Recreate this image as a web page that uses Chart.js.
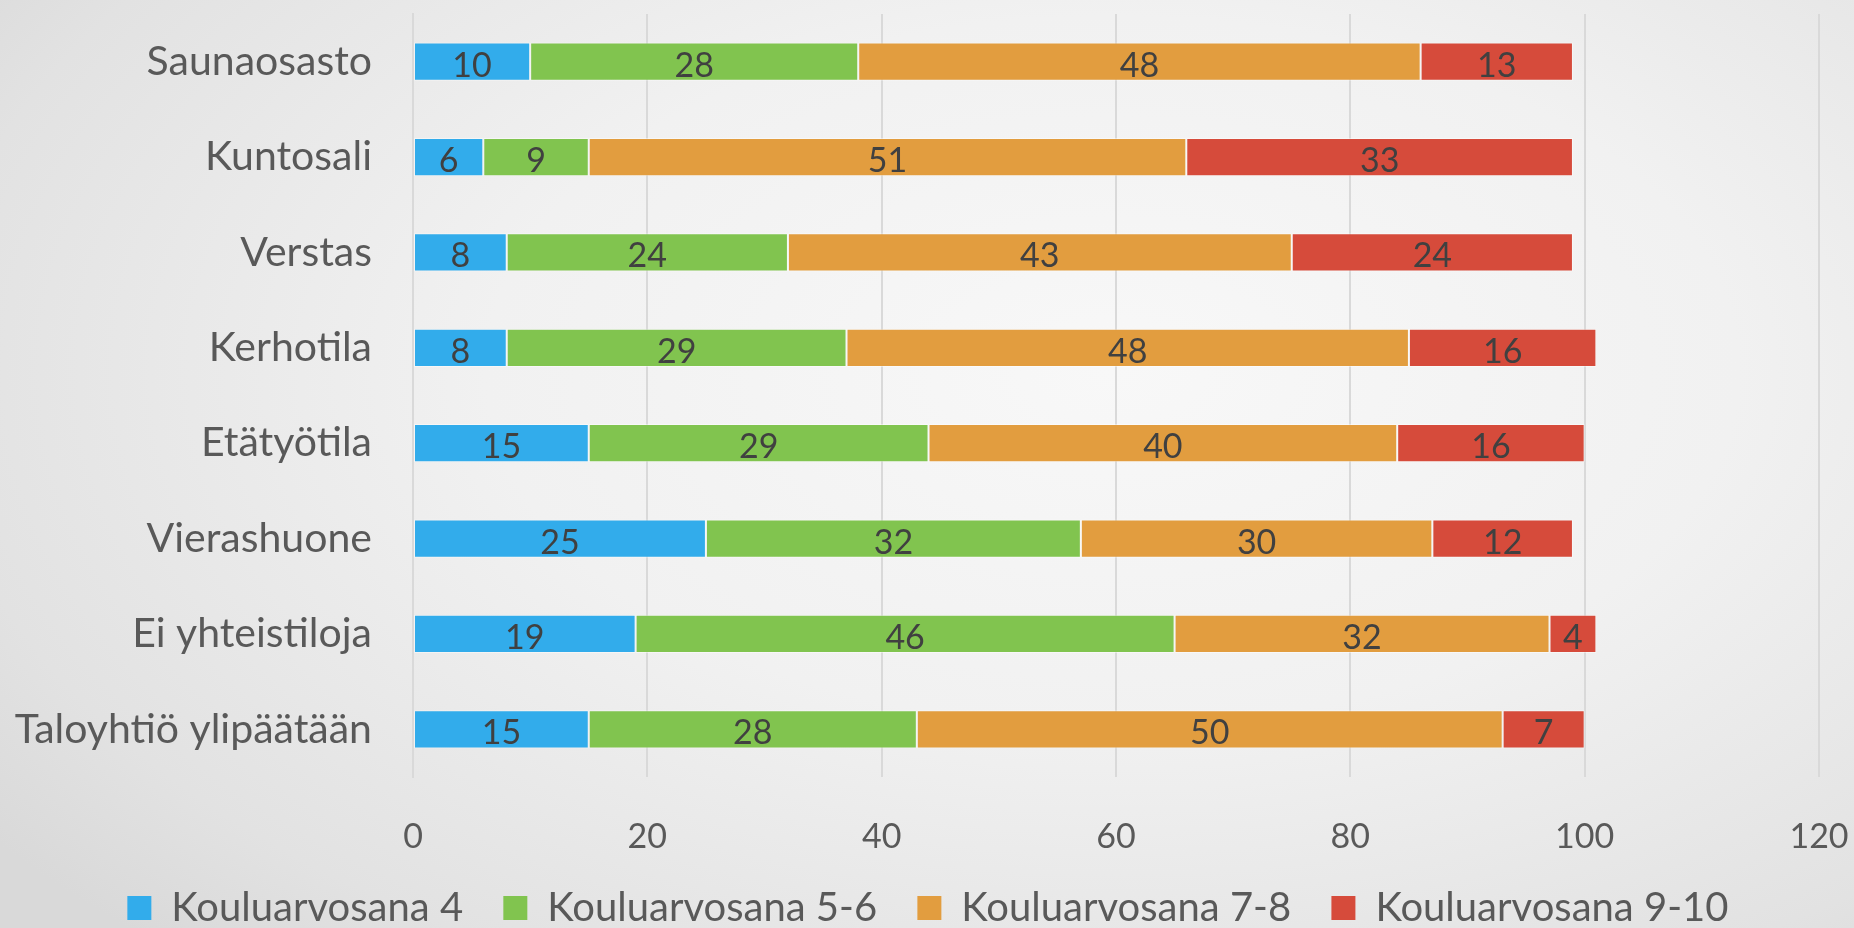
<!DOCTYPE html>
<html>
<head>
<meta charset="utf-8">
<script src="https://cdn.jsdelivr.net/npm/chart.js@4.4.1/dist/chart.umd.min.js"></script>
<style>
  html, body { margin: 0; padding: 0; }
  body {
    width: 1854px; height: 928px; overflow: hidden;
    background: radial-gradient(ellipse 75% 85% at 60% 40%, #f8f8f8 0%, #f1f1f1 45%, #e2e2e2 85%, #d9d9d9 100%);
  }
  /* a touch taller than the window so the legend row can sit low like the original */
  #wrap { position: relative; width: 1854px; height: 938px; }
</style>
</head>
<body>
<div id="wrap"><canvas id="chart"></canvas></div>
<script>
  // ── Data ────────────────────────────────────────────────────────────────
  const categories = [
    'Saunaosasto', 'Kuntosali', 'Verstas', 'Kerhotila',
    'Etätyötila', 'Vierashuone', 'Ei yhteistiloja', 'Taloyhtiö ylipäätään'
  ];
  const grade4   = [10, 6, 8, 8, 15, 25, 19, 15];
  const grade56  = [28, 9, 24, 29, 29, 32, 46, 28];
  const grade78  = [48, 51, 43, 48, 40, 30, 32, 50];
  const grade910 = [13, 33, 24, 16, 16, 12, 4, 7];
  const seriesNames = ['Kouluarvosana 4', 'Kouluarvosana 5-6', 'Kouluarvosana 7-8', 'Kouluarvosana 9-10'];
  const xTicks = [0, 20, 40, 60, 80, 100, 120];

  // ── Colour tokens ───────────────────────────────────────────────────────
  const BLUE   = '#32ACEB';
  const GREEN  = '#81C44F';
  const ORANGE = '#E29D3F';
  const RED    = '#D64B3B';
  const TEXT   = '#595959';
  const LABEL  = '#404040';
  const FONT   = 'Lato, "Open Sans", sans-serif';

  function mkSet(label, data, color) {
    return {
      label, data,
      backgroundColor: color,
      borderColor: 'rgba(255,255,255,0.45)',
      borderWidth: 1,
      borderSkipped: false,
      barPercentage: 0.4,
      categoryPercentage: 1,
    };
  }

  // Value labels centred in each segment
  const segLabels = {
    id: 'segLabels',
    afterDatasetsDraw(chart) {
      const ctx = chart.ctx;
      ctx.save();
      ctx.font = '34px ' + FONT;
      ctx.fillStyle = LABEL;
      ctx.textAlign = 'center';
      ctx.textBaseline = 'middle';
      chart.data.datasets.forEach((ds, i) => {
        chart.getDatasetMeta(i).data.forEach((bar, j) => {
          const { x, y, base } = bar.getProps(['x', 'y', 'base'], true);
          ctx.fillText(String(ds.data[j]), (x + base) / 2, y + 4);
        });
      });
      ctx.restore();
    }
  };

  new Chart(document.getElementById('chart'), {
    type: 'bar',
    data: {
      labels: categories,
      datasets: [
        mkSet(seriesNames[0], grade4, BLUE),
        mkSet(seriesNames[1], grade56, GREEN),
        mkSet(seriesNames[2], grade78, ORANGE),
        mkSet(seriesNames[3], grade910, RED),
      ],
    },
    options: {
      indexAxis: 'y',
      responsive: true,
      maintainAspectRatio: false,
      animation: false,
      layout: { padding: { top: 14, left: 12, right: 0, bottom: 0 } },
      plugins: {
        tooltip: { enabled: false },
        legend: {
          position: 'bottom',
          labels: {
            font: { family: FONT, size: 40 },
            color: TEXT,
            boxWidth: 24,
            boxHeight: 24,
            padding: 30,
            // trailing space widens each entry a little, like the original spacing
            generateLabels: chart => chart.data.datasets.map((ds, i) => ({
              text: ds.label + ' ',
              fillStyle: ds.backgroundColor,
              strokeStyle: ds.backgroundColor,
              lineWidth: 0,
              datasetIndex: i,
              fontColor: TEXT,
            })),
          },
        },
      },
      scales: {
        x: {
          stacked: true,
          min: 0,
          max: 120,
          afterBuildTicks: s => { s.ticks = xTicks.map(v => ({ value: v })); },
          afterFit: s => {
            s.height = 81;
            s.paddingLeft = 0;
            s.paddingRight = 35;
          },
          grid: { color: '#d9d9d9', lineWidth: 2, drawTicks: false },
          border: { display: false },
          ticks: {
            font: { family: FONT, size: 34 },
            color: TEXT,
            padding: 40,
            maxRotation: 0,
          },
        },
        y: {
          stacked: true,
          afterFit: s => {
            s.width = 401;
            s.paddingTop = 0;
            s.paddingBottom = 0;
          },
          grid: { display: false, drawTicks: false },
          border: { display: true, color: '#d9d9d9', width: 2 },
          ticks: {
            font: { family: FONT, size: 41 },
            color: TEXT,
            padding: 41,
          },
        },
      },
    },
    plugins: [segLabels],
  });
</script>
</body>
</html>
